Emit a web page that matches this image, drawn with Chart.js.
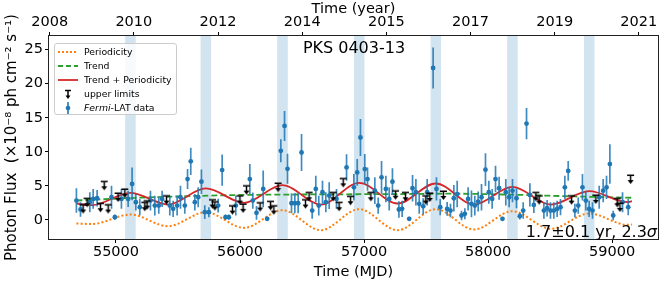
<!DOCTYPE html>
<html><head><meta charset="utf-8">
<script src="https://cdn.jsdelivr.net/npm/chart.js@4.4.1/dist/chart.umd.min.js"></script>
<style>
html,body{margin:0;padding:0;background:#fff;}
#wrap{position:relative;width:664px;height:282px;overflow:hidden;font-family:'DejaVu Sans',sans-serif;color:#000;}
canvas{display:block;}
.lg{position:absolute;left:54px;top:43px;width:123px;height:72px;background:rgba(255,255,255,0.8);border:1px solid #ccc;border-radius:3px;box-sizing:border-box;font-size:9.3px;}
.row{position:absolute;left:0;height:12px;line-height:12px;white-space:nowrap;}
.row svg{position:absolute;left:2px;top:0;}
.row span{position:absolute;left:29px;top:0;}
.ann{position:absolute;font-size:16px;line-height:18px;white-space:nowrap;}
</style></head>
<body>
<div id="wrap">
<canvas id="c" width="664" height="282"></canvas>
<div class="lg">
 <div class="row" style="top:2px"><svg width="22" height="12"><line x1="1" y1="6" x2="21" y2="6" stroke="#ff7f0e" stroke-width="2" stroke-dasharray="2,2"/></svg><span>Periodicity</span></div>
 <div class="row" style="top:15.5px"><svg width="22" height="12"><line x1="1" y1="6" x2="21" y2="6" stroke="#2ca02c" stroke-width="1.8" stroke-dasharray="5,3"/></svg><span>Trend</span></div>
 <div class="row" style="top:29.5px"><svg width="22" height="12"><line x1="1" y1="6" x2="21" y2="6" stroke="#d62728" stroke-width="1.8"/></svg><span>Trend + Periodicity</span></div>
 <div class="row" style="top:43.5px"><svg width="22" height="12"><line x1="8" y1="2.5" x2="14" y2="2.5" stroke="#000" stroke-width="1.5"/><line x1="11" y1="2.5" x2="11" y2="8" stroke="#000" stroke-width="1.5"/><polygon points="8.5,7.5 13.5,7.5 11,11" fill="#000"/></svg><span>upper limits</span></div>
 <div class="row" style="top:57.5px"><svg width="22" height="12"><line x1="11" y1="0" x2="11" y2="12" stroke="#1f77b4" stroke-width="1.6"/><circle cx="11" cy="6" r="2.3" fill="#1f77b4"/></svg><span><i>Fermi</i>-LAT data</span></div>
</div>
<div class="ann" style="left:254px;width:200px;text-align:center;top:39px;">PKS 0403-13</div>
<div class="ann" style="right:7px;top:223px;">1.7±0.1 yr, 2.3<i>σ</i></div>
</div>
<script>
// ---------------- data ----------------
const fermiMjd = [54681,54714,54789,54816,54848,54964,54991,55044,55098,55130,55160,55192,55278,55313,55345,55372,55434,55461,55493,55520,55555,55577,55603,55636,55663,55689,55716,55749,55824,55856,55883,55910,55966,56079,56103,
56133,56187,56219,56329,56359,56383,56415,56442,56469,56496,56582,56611,56635,56665,56692,56719,56778,56859,56918,56945,56971,57006,57028,57087,57114,57141,57176,57203,57229,57281,57307,57364,57391,57418,57445,57477,57509,57557,57584,57614,
57670,57697,57724,57751,57786,57813,57839,57866,57893,57920,57947,57979,58006,58033,58060,58089,58116,58143,58170,58197,58229,58256,58283,58310,58337,58369,58450,58476,58503,58530,58557,58584,58619,58646,58700,58727,58761,58788,58815,58842,58896,58928,58955,58982,59009,59084,59130];
const fermiFlux = [2.84,1.53,2.6,3.09,3.18,3.33,0.41,3.09,3.09,5.28,2.6,1.87,2.84,2.1,2.1,3.09,2.1,1.63,2.1,3.33,2.1,6.0,8.6,2.6,3.33,5.62,1.14,1.14,2.1,7.32,0.41,0.41,2.1,6.0,2.84,
1.04,4.55,0.16,10.15,13.8,7.5,2.45,2.45,2.45,9.9,1.38,4.55,2.1,4.06,2.6,3.57,3.09,7.7,4.79,6.98,12.1,7.47,6.0,4.3,2.1,6.25,4.55,3.09,5.62,1.53,1.63,0.16,4.65,4.06,2.36,2.0,4.06,22.3,4.55,1.87,
1.62,1.38,3.18,3.8,0.65,0.9,3.09,2.36,2.1,2.7,3.33,7.37,4.06,3.09,6.0,4.65,0.16,4.06,3.33,4.3,3.18,0.55,1.38,14.14,3.67,2.2,1.38,1.72,1.38,1.38,1.62,1.87,4.79,7.2,1.38,2.1,4.79,2.84,1.62,1.38,3.33,4.3,4.79,8.2,0.65,2.6,1.87];
const fermiErr = [1.8,1.07,1.46,1.46,1.2,1.7,0.4,1.46,1.2,2.4,1.2,1.2,1.46,1.46,1.2,1.2,1.46,1.2,1.46,1.7,1.2,1.46,2.0,1.2,1.46,1.8,1.0,0.73,1.0,2.3,0.4,0.4,1.46,2.2,1.2,
1.0,2.7,0.3,1.7,2.2,2.2,1.46,1.46,1.46,2.7,1.2,1.95,1.46,1.7,1.46,1.95,1.46,1.95,1.95,1.95,2.7,2.2,1.7,1.95,1.2,2.4,1.95,1.7,1.95,1.2,1.2,0.3,1.95,1.95,1.46,1.2,1.95,3.0,1.7,1.2,
1.0,1.0,1.95,1.95,0.7,0.8,1.7,1.95,1.46,1.46,1.95,2.4,1.7,1.46,1.95,1.7,0.3,1.95,1.46,1.7,1.46,0.5,1.2,2.3,1.7,1.2,1.2,1.2,1.2,1.2,1.2,1.2,1.7,1.46,1.0,1.2,1.95,1.46,1.2,1.2,1.7,1.7,1.7,2.9,0.7,1.46,1.2];
const ulMjd = [54735,54767,54875,54905,54937,55017,55071,55232,55251,55407,55778,55797,55939,55999,56025,56052,56162,56246,56273,56307,56528,56557,56751,56799,56832,56891,57055,57254,57334,57498,57530,57640,58385,58412,58673,58869,59041,59063,59149];
const ulFlux = [2.26,3.19,2.45,5.67,2.26,3.96,4.55,2.6,2.84,3.57,2.99,2.7,2.1,3.57,2.36,5.04,2.55,2.75,2.1,5.42,2.99,4.06,4.06,2.6,6.1,3.48,4.06,4.3,4.06,3.57,3.96,4.25,4.06,3.57,3.57,3.67,3.18,2.5,6.59];
const curveMjd = [54681,54807,55116,55420,55724,56033,56342,56652,56961,57270,57578,57887,58196,58506,58815,59123,59160];
const periodicity = [-0.53,-0.6,0.79,-0.92,1.13,-1.17,1.43,-1.51,1.58,-1.51,1.58,-1.41,1.28,-1.31,0.94,-0.72,-0.68];
const trendPlusPeriodicity = [2.41,2.17,3.98,2.26,4.62,2.51,5.1,2.26,5.45,2.41,5.35,2.26,4.86,2.26,4.22,2.6,2.75];
const trendMjd = [54681,55100,55600,56100,56700,57300,57700,58200,58700,59160];
const trend = [2.85,3.2,3.5,3.68,3.75,3.8,3.85,3.7,3.45,3.25];
const bandStart = [55074,55682,56300,56919,57536,58154,58773];
const bandEnd   = [55159,55767,56385,57004,57621,58239,58858];
const mjdTicks = [55000,56000,57000,58000,59000];
const yearTickMjd = [54466,55144,55823,56501,57180,57858,58537,59215];
const yearTickLabels = ['2008','2010','2012','2014','2015','2017','2019','2021'];
const fluxTicks = [0,5,10,15,20,25];

// ---------------- build ----------------
const FONT = {family:"'DejaVu Sans'", size:14.5};
const errData = [];
fermiMjd.forEach((m,i)=>{ errData.push({x:m,y:fermiFlux[i]-fermiErr[i]},{x:m,y:fermiFlux[i]+fermiErr[i]},{x:m,y:null}); });
function ulMarker(){
  const c=document.createElement('canvas'); c.width=9; c.height=20;
  const g=c.getContext('2d'); g.strokeStyle='#000'; g.fillStyle='#000'; g.lineWidth=1.5;
  g.beginPath(); g.moveTo(1,10.25); g.lineTo(8,10.25); g.stroke();
  g.beginPath(); g.moveTo(4.5,10); g.lineTo(4.5,16); g.stroke();
  g.beginPath(); g.moveTo(1.5,15); g.lineTo(7.5,15); g.lineTo(4.5,19); g.closePath(); g.fill();
  return c;
}
const bandPlugin = {id:'bands', beforeDatasetsDraw(ch){
  const {ctx, chartArea:a, scales:{x}} = ch; ctx.save(); ctx.fillStyle='rgba(31,119,180,0.2)';
  bandStart.forEach((s,i)=>{ const x0=x.getPixelForValue(s), x1=x.getPixelForValue(bandEnd[i]); ctx.fillRect(x0,a.top,x1-x0,a.bottom-a.top); });
  ctx.restore(); }};
const framePlugin = {id:'frame', afterDatasetsDraw(ch){
  const {ctx, chartArea:a} = ch; ctx.save(); ctx.strokeStyle='#222'; ctx.lineWidth=1;
  ctx.strokeRect(Math.round(a.left)-0.5, Math.round(a.top)-0.5, Math.round(a.right-a.left)+1, Math.round(a.bottom-a.top)+1); ctx.restore(); }};
const XMIN=54460, XMAX=59370;
new Chart(document.getElementById('c'), {
  type:'scatter',
  data:{datasets:[
    {type:'line', label:'Periodicity', data:curveMjd.map((m,i)=>({x:m,y:periodicity[i]})), borderColor:'#ff7f0e', borderWidth:2, borderDash:[2,2.2], pointRadius:0, cubicInterpolationMode:'monotone', fill:false, order:5},
    {type:'line', label:'Trend', data:trendMjd.map((m,i)=>({x:m,y:trend[i]})), borderColor:'#2ca02c', borderWidth:1.8, borderDash:[6,3], pointRadius:0, cubicInterpolationMode:'monotone', fill:false, order:4},
    {type:'line', label:'Trend + Periodicity', data:curveMjd.map((m,i)=>({x:m,y:trendPlusPeriodicity[i]})), borderColor:'#d62728', borderWidth:1.8, pointRadius:0, cubicInterpolationMode:'monotone', fill:false, order:3},
    {type:'line', label:'err', data:errData, borderColor:'rgba(31,119,180,0.85)', borderWidth:1.7, pointRadius:0, spanGaps:false, tension:0, fill:false, order:2},
    {type:'scatter', label:'Fermi-LAT data', data:fermiMjd.map((m,i)=>({x:m,y:fermiFlux[i]})), backgroundColor:'#1f77b4', borderWidth:0, pointRadius:2.4, order:1},
    {type:'scatter', label:'upper limits', data:ulMjd.map((m,i)=>({x:m,y:ulFlux[i]})), pointStyle:ulMarker(), order:0}
  ]},
  options:{
    responsive:false, animation:false, devicePixelRatio:1, events:[],
    layout:{padding:{left:0,right:6,top:0,bottom:0}},
    plugins:{legend:{display:false}, tooltip:{enabled:false}},
    scales:{
      x:{type:'linear', position:'bottom', min:XMIN, max:XMAX,
        afterBuildTicks:s=>{s.ticks=mjdTicks.map(v=>({value:v}));},
        afterFit:s=>{s.height=43;},
        grid:{drawOnChartArea:false, drawTicks:true, tickLength:4, color:'#000', tickWidth:1},
        border:{display:false},
        ticks:{font:FONT, color:'#000', padding:1, maxRotation:0, autoSkip:false, callback:v=>String(v)},
        title:{display:true, text:'Time (MJD)', font:FONT, color:'#000', padding:{top:0,bottom:1}}},
      x2:{type:'linear', position:'top', min:XMIN, max:XMAX,
        afterBuildTicks:s=>{s.ticks=yearTickMjd.map(v=>({value:v}));},
        afterFit:s=>{s.height=36;},
        grid:{drawOnChartArea:false, drawTicks:true, tickLength:4, color:'#000', tickWidth:1},
        border:{display:false},
        ticks:{font:FONT, color:'#000', padding:1, maxRotation:0, autoSkip:false, callback:(v,i)=>yearTickLabels[i]},
        title:{display:true, text:'Time (year)', font:FONT, color:'#000', padding:{top:1,bottom:0}}},
      y:{type:'linear', position:'left', min:-2.8, max:27,
        afterBuildTicks:s=>{s.ticks=fluxTicks.map(v=>({value:v}));},
        afterFit:s=>{s.width=49;},
        grid:{drawOnChartArea:false, drawTicks:true, tickLength:4, color:'#000', tickWidth:1},
        border:{display:false},
        ticks:{font:FONT, color:'#000', padding:2, callback:v=>String(v)},
        title:{display:true, text:'Photon Flux  (×10⁻⁸ ph cm⁻² s⁻¹)', font:{family:"'DejaVu Sans'", size:15}, color:'#000', padding:{top:3,bottom:0}}}
    }
  },
  plugins:[bandPlugin, framePlugin]
});
</script>
</body></html>
